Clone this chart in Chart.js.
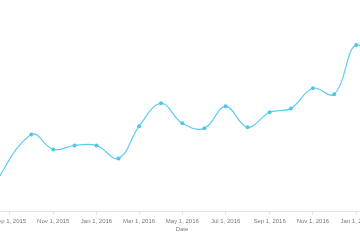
<!DOCTYPE html>
<html><head><meta charset="utf-8">
<script src="https://cdn.jsdelivr.net/npm/chart.js@4/dist/chart.umd.min.js"></script>
<style>
html,body{margin:0;padding:0;background:#fff;overflow:hidden;width:360px;height:240px;}
#wrap{position:absolute;left:-64px;top:0;width:492px;height:240px;}
</style></head><body>
<div id="wrap"><canvas id="c"></canvas></div>
<script>
const dates = ['2015-08-01','2015-10-01','2015-11-01','2015-12-01','2016-01-01','2016-02-01','2016-03-01','2016-04-01','2016-05-01','2016-06-01','2016-07-01','2016-08-01','2016-09-01','2016-10-01','2016-11-01','2016-12-01','2017-01-01','2017-02-01'];
const values = [8.5, 38.3, 30.8, 32.8, 32.8, 26.4, 42.3, 53.7, 43.8, 41.3, 52.2, 41.8, 49.3, 51.2, 61.2, 58.2, 82.6, 65.2];
const tickDates = ['2015-07-01','2015-09-01','2015-11-01','2016-01-01','2016-03-01','2016-05-01','2016-07-01','2016-09-01','2016-11-01','2017-01-01','2017-03-01'];
const tickLabels = ['Jul 1, 2015','Sep 1, 2015','Nov 1, 2015','Jan 1, 2016','Mar 1, 2016','May 1, 2016','Jul 1, 2016','Sep 1, 2016','Nov 1, 2016','Jan 1, 2017','Mar 1, 2017'];
const xMinDate = '2015-07-01', xMaxDate = '2017-03-01';
const axisTitle = 'Date';

const dayOf = s => Date.parse(s + 'T00:00:00Z') / 86400000;
const points = dates.map((d, i) => ({x: dayOf(d), y: values[i]}));
const lineColor = 'rgb(96,204,238)';
const textColor = '#7a7a7a';

new Chart(document.getElementById('c'), {
  type: 'line',
  data: { datasets: [{
    data: points,
    borderColor: lineColor,
    backgroundColor: lineColor,
    borderWidth: 1.2,
    pointRadius: 2,
    pointBorderWidth: 0,
    pointBackgroundColor: 'rgb(84,196,234)',
    tension: 0.4,
    fill: false
  }]},
  options: {
    responsive: true,
    maintainAspectRatio: false,
    devicePixelRatio: 1,
    animation: false,
    layout: { padding: { left: 30, right: 30, top: 10, bottom: 7 } },
    plugins: { legend: { display: false }, tooltip: { enabled: false }, title: { display: false } },
    scales: {
      x: {
        type: 'linear',
        min: dayOf(xMinDate),
        max: dayOf(xMaxDate),
        afterBuildTicks: s => { s.ticks = tickDates.map(d => ({ value: dayOf(d) })); },
        grid: { display: true, drawOnChartArea: false, drawTicks: true, tickLength: 3, color: '#dfe5ec' },
        border: { display: true, color: '#dfe5ec' },
        ticks: {
          autoSkip: false, maxRotation: 0, padding: 3, color: textColor,
          font: { family: 'Liberation Sans', size: 6 },
          callback: (v, i) => tickLabels[i]
        },
        title: { display: true, text: axisTitle, color: textColor, padding: { top: -2, bottom: 0 }, font: { family: 'Liberation Sans', size: 6 } }
      },
      y: { display: false, min: 0, max: 100 }
    }
  }
});
</script>
</body></html>
